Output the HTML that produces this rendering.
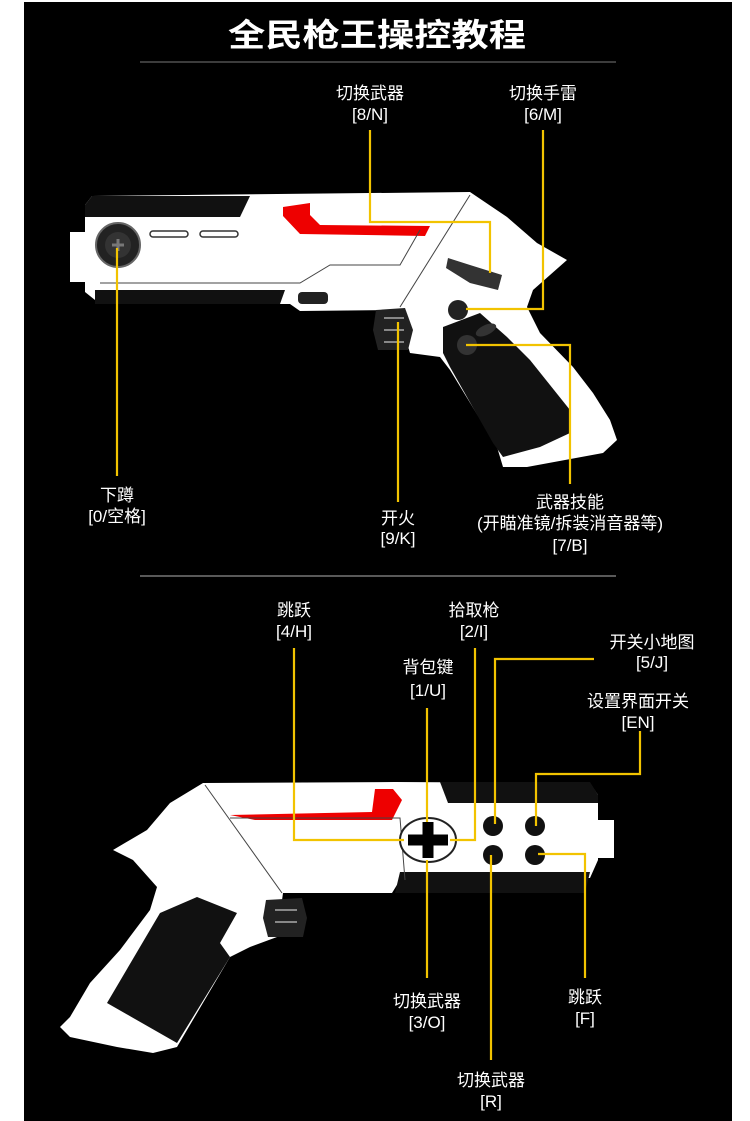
<!DOCTYPE html>
<html><head><meta charset="utf-8"><style>
html,body{margin:0;padding:0;background:#fff;}
svg{display:block}
text{font-family:"Liberation Sans","Noto Sans CJK SC",sans-serif;fill:#fff;text-anchor:middle;}
.l{font-size:17px;}
.y{stroke:#f2c300;stroke-width:2.2;fill:none;}
</style></head><body>
<svg width="750" height="1121" viewBox="0 0 750 1121" xmlns="http://www.w3.org/2000/svg">
<rect x="0" y="0" width="750" height="1121" fill="#fff"/>
<rect x="24" y="2" width="708" height="1119" fill="#000"/>
<text x="377" y="46" font-size="32" font-weight="bold" textLength="298" lengthAdjust="spacingAndGlyphs">全民枪王操控教程</text>
<line x1="140" y1="62" x2="616" y2="62" stroke="#777" stroke-width="1"/>
<line x1="140" y1="576" x2="616" y2="576" stroke="#777" stroke-width="1.5"/>

<!-- GUN 1 -->
<g>
<rect x="70" y="232" width="18" height="50" fill="#fff"/>
<polygon fill="#fff" points="85,205 92,196 470,192 507,217 537,243 567,260 533,290 527,307 540,333 573,367 593,393 610,420 617,440 603,453 527,467 503,467 497,447 450,370 440,357 410,353 397,310 300,311 290,304 100,304 85,292"/>
<path d="M85,205 L92,196 L250,196 L240,217 L85,217 Z" fill="#111"/>
<path d="M95,304 L280,304 L285,290 L95,290 Z" fill="#111"/>
<polygon fill="#e00" points="283,207 310,203 310,215 320,225 430,226 425,236 300,234 283,216"/>
<circle cx="118" cy="245" r="22" fill="#222" stroke="#666" stroke-width="2"/>
<circle cx="118" cy="245" r="13" fill="#333"/>
<path d="M112,245 h12 M118,239 v12" stroke="#777" stroke-width="3"/>
<rect x="150" y="231" width="38" height="6" rx="3" fill="none" stroke="#333" stroke-width="1.5"/>
<rect x="200" y="231" width="38" height="6" rx="3" fill="none" stroke="#333" stroke-width="1.5"/>
<path d="M100,283 L300,283 L330,265 L400,265 L420,230" stroke="#444" fill="none" stroke-width="1"/>
<path d="M470,195 L400,307" stroke="#444" fill="none"/>
<rect x="298" y="292" width="30" height="12" rx="4" fill="#222"/>
<path d="M376,310 L405,308 L413,330 L408,350 L378,350 L373,330 Z" fill="#222"/>
<path d="M384,318 h20 M384,330 h20 M384,342 h20" stroke="#888" stroke-width="2"/>
<path d="M448,258 L470,265 L502,275 L498,290 L470,283 L446,268 Z" fill="#333"/>
<circle cx="458" cy="310" r="10" fill="#222"/>
<polygon fill="#111" points="443,327 480,313 507,337 530,360 570,410 570,433 540,447 503,457 493,443 450,367 443,353"/>
<circle cx="467" cy="345" r="10" fill="#333"/>
<ellipse cx="486" cy="330" rx="11" ry="5" fill="#333" transform="rotate(-25 486 330)"/>
</g>

<!-- connectors top -->
<path class="y" d="M370,130 V222 H490 V273"/>
<path class="y" d="M543,130 V309 H466"/>
<path class="y" d="M117,248 V476"/>
<path class="y" d="M398,322 V502"/>
<path class="y" d="M466,345 H570 V484"/>

<text class="l" x="370" y="99">切换武器</text>
<text class="l" x="370" y="120">[8/N]</text>
<text class="l" x="543" y="99">切换手雷</text>
<text class="l" x="543" y="120">[6/M]</text>
<text class="l" x="117" y="501">下蹲</text>
<text class="l" x="117" y="522">[0/空格]</text>
<text class="l" x="398" y="524">开火</text>
<text class="l" x="398" y="544">[9/K]</text>
<text class="l" x="570" y="508">武器技能</text>
<text class="l" x="570" y="529">(开瞄准镜/拆装消音器等)</text>
<text class="l" x="570" y="551">[7/B]</text>

<!-- GUN 2 -->
<g>
<rect x="596" y="820" width="18" height="38" fill="#fff"/>
<polygon fill="#fff" points="203,783 395,782 590,783 598,795 598,860 590,878 400,880 392,893 283,893 277,937 250,947 230,957 177,1047 153,1053 117,1047 70,1037 60,1027 70,1017 90,983 120,950 150,910 157,887 133,860 113,850 147,830 170,803"/>
<path d="M440,782 L590,782 L598,795 L598,803 L448,803 Z" fill="#111"/>
<path d="M400,872 L590,872 L585,893 L395,893 Z" fill="#111"/>
<polygon fill="#e00" points="375,789 393,789 402,800 392,820 255,820 230,815 372,812"/>
<path d="M205,785 L282,893" stroke="#444" fill="none"/>
<path d="M230,818 L400,818 L405,880" stroke="#444" fill="none"/>
<path d="M266,900 L302,898 L307,918 L303,937 L268,937 L263,918 Z" fill="#222"/>
<path d="M275,910 h22 M275,922 h22" stroke="#888" stroke-width="2"/>
<polygon fill="#111" points="197,897 237,913 220,943 230,957 177,1043 107,1003 160,913"/>
<ellipse cx="428" cy="840" rx="28" ry="22" fill="#fff" stroke="#222" stroke-width="2"/>
<path d="M428,822 V858 M408,840 H448" stroke="#000" stroke-width="11"/>
<circle cx="493" cy="826" r="10" fill="#111"/>
<circle cx="535" cy="826" r="10" fill="#111"/>
<circle cx="493" cy="855" r="10" fill="#111"/>
<circle cx="535" cy="855" r="10" fill="#111"/>
</g>

<!-- connectors bottom -->
<path class="y" d="M294,648 V840 H404"/>
<path class="y" d="M475,648 V840 H450"/>
<path class="y" d="M427,708 V822"/>
<path class="y" d="M427,860 V978"/>
<path class="y" d="M594,659 H495 V824"/>
<path class="y" d="M640,731 V774 H536 V826"/>
<path class="y" d="M491,855 V1060"/>
<path class="y" d="M538,854 H585 V978"/>

<text class="l" x="294" y="616">跳跃</text>
<text class="l" x="294" y="637">[4/H]</text>
<text class="l" x="474" y="616">拾取枪</text>
<text class="l" x="474" y="637">[2/I]</text>
<text class="l" x="428" y="673">背包键</text>
<text class="l" x="428" y="696">[1/U]</text>
<text class="l" x="652" y="648">开关小地图</text>
<text class="l" x="652" y="668">[5/J]</text>
<text class="l" x="638" y="707">设置界面开关</text>
<text class="l" x="638" y="728">[EN]</text>
<text class="l" x="427" y="1007">切换武器</text>
<text class="l" x="427" y="1028">[3/O]</text>
<text class="l" x="585" y="1003">跳跃</text>
<text class="l" x="585" y="1024">[F]</text>
<text class="l" x="491" y="1086">切换武器</text>
<text class="l" x="491" y="1107">[R]</text>
</svg>
</body></html>
